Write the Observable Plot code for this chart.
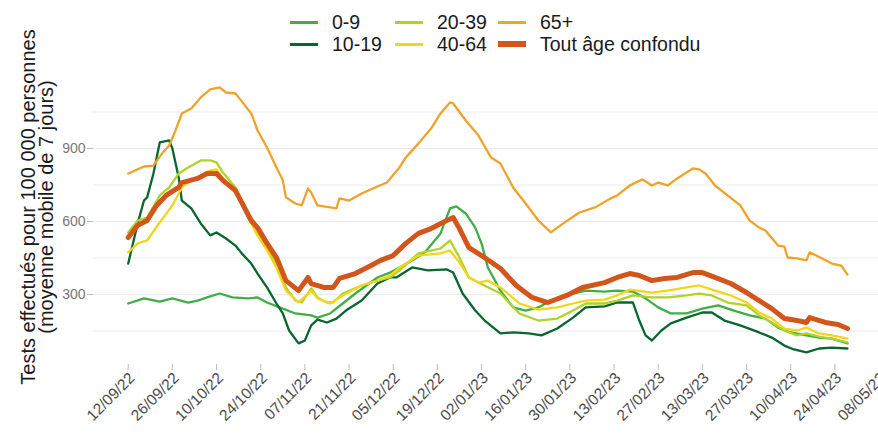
<!DOCTYPE html>
<html>
<head>
<meta charset="utf-8">
<script src="https://cdn.jsdelivr.net/npm/d3@7"></script>
<script src="https://cdn.jsdelivr.net/npm/@observablehq/plot@0.6"></script>
<style>
  html, body { margin: 0; padding: 0; background: white; }
  #wrap { position: relative; width: 878px; height: 435px; overflow: hidden; font-family: "Liberation Sans", Arial, sans-serif; }
  #chart { position: absolute; left: 0; top: 0; }
  #chart svg { max-width: none !important; }
  #legend { position: absolute; left: 0; top: 0; width: 878px; height: 56px; z-index: 2; }
  #legend .sw { position: absolute; width: 28px; }
  #legend .lb { position: absolute; font-size: 19.5px; line-height: 20px; color: #1a1a1a; white-space: nowrap; }
</style>
</head>
<body>
<div id="wrap">
  <div id="chart"></div>
  <div id="legend"></div>
</div>
<script>
// ---- data (day offset from 12/09/22, tests per 100 000, 7-day moving average) ----
const seriesNames = ["0-9", "10-19", "20-39", "40-64", "65+", "Tout âge confondu"];
const seriesColors = ["#3fae49", "#0a6630", "#b0d22a", "#f3d51c", "#f0a22a", "#d2561b"];

const s0_9 = [[0,263],[5,284],[10,271],[14,284],[19,267],[22,275],[26,292],[29,304],[33,288],[38,284],[41,288],[44,267],[48,247],[53,222],[58,214],[60,205],[64,222],[68,263],[72,304],[79,370],[83,390],[86,411],[90,440],[94,473],[99,551],[102,654],[104,662],[107,633],[110,575],[112,510],[114,411],[118,316],[122,247],[126,234],[130,247],[134,275],[139,296],[145,316],[151,312],[155,316],[160,312],[164,284],[168,247],[172,222],[177,222],[182,242],[187,255],[192,234],[197,214],[202,201],[206,164],[210,144],[215,132],[219,123],[223,119],[228,99]];

const s10_19 = [[0,427],[3,592],[5,686],[6,699],[8,797],[10,925],[13,933],[14,900],[16,781],[17,686],[20,654],[23,592],[26,543],[28,555],[31,530],[34,501],[36,469],[39,427],[41,386],[44,329],[47,263],[49,222],[51,152],[54,99],[56,111],[58,173],[60,197],[63,185],[66,201],[69,234],[74,275],[79,345],[83,370],[85,370],[90,411],[95,399],[101,403],[103,390],[106,304],[110,234],[113,193],[118,140],[122,144],[127,140],[131,132],[136,160],[141,205],[145,247],[151,251],[155,267],[160,267],[162,193],[164,132],[166,111],[169,152],[172,181],[177,205],[182,226],[185,226],[189,193],[194,173],[200,144],[204,123],[208,90],[211,74],[215,62],[219,78],[223,82],[228,78]];

const s20_39 = [[0,555],[3,604],[6,616],[10,707],[13,740],[16,797],[19,822],[23,851],[26,851],[28,843],[30,801],[34,740],[39,604],[41,551],[44,493],[47,427],[50,329],[53,275],[55,267],[58,325],[60,288],[63,267],[65,267],[68,304],[74,337],[79,357],[83,370],[86,399],[92,469],[99,489],[102,522],[105,452],[108,370],[111,349],[118,304],[124,222],[130,193],[136,201],[141,234],[145,263],[151,263],[155,275],[160,296],[166,288],[171,288],[177,296],[181,304],[185,296],[190,267],[196,255],[200,214],[204,185],[208,152],[212,132],[215,140],[219,127],[223,119],[228,103]];

const s40_64 = [[0,473],[3,510],[6,522],[10,596],[14,666],[17,740],[20,769],[23,789],[26,810],[28,814],[30,777],[34,727],[39,592],[41,543],[44,481],[47,411],[50,316],[54,267],[58,316],[60,284],[64,263],[68,296],[74,337],[79,357],[83,378],[86,411],[92,460],[99,469],[102,481],[105,431],[108,370],[111,349],[114,357],[118,329],[124,263],[130,238],[136,247],[141,263],[145,275],[151,279],[155,296],[159,320],[166,308],[171,316],[177,329],[181,337],[186,316],[191,296],[196,267],[200,226],[204,201],[208,160],[212,152],[215,164],[219,140],[223,132],[228,119]];

const s65 = [[0,797],[5,826],[8,830],[11,884],[13,912],[15,974],[17,1044],[20,1064],[23,1110],[26,1143],[29,1151],[31,1130],[34,1126],[35,1110],[39,1044],[41,974],[44,904],[47,822],[49,769],[50,699],[53,674],[55,666],[57,736],[58,719],[60,666],[64,658],[66,654],[67,695],[70,686],[74,715],[79,744],[82,760],[86,822],[88,863],[92,921],[96,982],[99,1044],[102,1089],[103,1085],[107,1015],[111,954],[115,863],[118,838],[122,740],[126,674],[130,604],[134,555],[137,584],[143,637],[148,658],[153,695],[155,707],[159,748],[163,773],[166,748],[168,760],[171,748],[174,777],[179,818],[181,814],[183,797],[186,748],[190,707],[194,666],[197,604],[200,575],[202,563],[206,501],[208,497],[209,452],[212,448],[215,440],[216,473],[220,448],[223,427],[226,419],[228,382]];

const sAll = [[0,534],[3,584],[6,604],[9,666],[12,707],[16,740],[17,760],[22,777],[25,797],[28,797],[30,769],[34,727],[39,604],[41,575],[44,510],[47,452],[50,357],[54,316],[57,370],[58,345],[62,329],[65,329],[67,366],[72,386],[77,419],[80,440],[84,460],[88,510],[92,551],[96,571],[101,604],[103,616],[105,571],[108,493],[112,460],[118,407],[123,337],[128,288],[133,267],[139,296],[144,329],[151,349],[155,370],[159,386],[162,378],[166,357],[170,366],[174,370],[179,390],[182,390],[186,370],[191,345],[196,308],[200,275],[204,242],[208,201],[212,193],[215,185],[216,205],[221,185],[225,177],[228,160]];

const seriesData = [s0_9, s10_19, s20_39, s40_64, s65, sAll];

const xTickLabels = ["12/09/22","26/09/22","10/10/22","24/10/22","07/11/22","21/11/22","05/12/22","19/12/22","02/01/23","16/01/23","30/01/23","13/02/23","27/02/23","13/03/23","27/03/23","10/04/23","24/04/23","08/05/23"];
const yTickValues = [300, 600, 900];
const yGridValues = [150, 300, 450, 600, 750, 900, 1050];
const yTitleLines = ["Tests effectués pour 100 000 personnes", "(moyenne mobile de 7 jours)"];

// ---- build ----
const parse = d3.utcParse("%d/%m/%y");
const fmt = d3.utcFormat("%d/%m/%y");
const origin = parse("12/09/22");
const dayToDate = d => new Date(origin.getTime() + d * 864e5);
const xTicks = xTickLabels.map(parse);

const widths = [2.3, 2.3, 2.3, 2.3, 2.3, 5];
const rows = seriesData.map((arr, i) => arr.map(([d, v]) => ({date: dayToDate(d), value: v, name: seriesNames[i]})));

// legend
const legend = document.getElementById("legend");
const colX = [290, 395, 498];
const rowY = [22, 44];
seriesNames.forEach((name, i) => {
  const c = Math.floor(i / 2), r = i % 2;
  const sw = document.createElement("div");
  sw.className = "sw";
  const h = widths[i] > 3 ? 6 : 3;
  sw.style.left = colX[c] + "px";
  sw.style.top = (rowY[r] - h / 2) + "px";
  sw.style.height = h + "px";
  sw.style.background = seriesColors[i];
  legend.appendChild(sw);
  const lb = document.createElement("div");
  lb.className = "lb";
  lb.textContent = name;
  lb.style.left = (colX[c] + 42) + "px";
  lb.style.top = (rowY[r] - 10) + "px";
  legend.appendChild(lb);
});

const chart = Plot.plot({
  width: 900,
  height: 435,
  marginLeft: 93,
  marginRight: 12,
  marginTop: 78,
  marginBottom: 71,
  style: {fontFamily: "Liberation Sans, Arial, sans-serif", background: "white", maxWidth: "none"},
  x: {type: "utc", domain: [dayToDate(-11), dayToDate(241)]},
  y: {domain: [12.3, 1187.6]},
  marks: [
    Plot.ruleY(yGridValues, {stroke: "#ebebeb", strokeWidth: 1.1}),
    Plot.axisY({ticks: yTickValues, tickSize: 6, tickPadding: 2, fontSize: 14, fill: "#777", stroke: "#bbb", label: null}),
    Plot.axisX({ticks: xTicks, tickSize: 6, stroke: "#bbb", text: null, label: null}),
    Plot.axisX({ticks: xTicks, tickFormat: fmt, tickRotate: -45, tickSize: 0, tickPadding: 9, dx: 4, dy: 2, fontSize: 15.5, fill: "#4d4d4d", label: null}),
    ...rows.map((r, i) => Plot.line(r, {x: "date", y: "value", stroke: seriesColors[i], strokeWidth: widths[i], strokeLinejoin: "round", strokeLinecap: "round"}))
  ]
});
chart.style.maxWidth = "none";
document.getElementById("chart").appendChild(chart);

// y-axis title (two rotated lines)
const svg = d3.select(chart);
const titleCenterY = 207;
const titleXs = [35, 53];
yTitleLines.forEach((t, i) => {
  svg.append("text")
    .attr("transform", `translate(${titleXs[i]},${titleCenterY}) rotate(-90)`)
    .attr("text-anchor", "middle")
    .attr("font-size", 20)
    .attr("fill", "#1a1a1a")
    .attr("font-family", "Liberation Sans, Arial, sans-serif")
    .text(t);
});
</script>
</body>
</html>
